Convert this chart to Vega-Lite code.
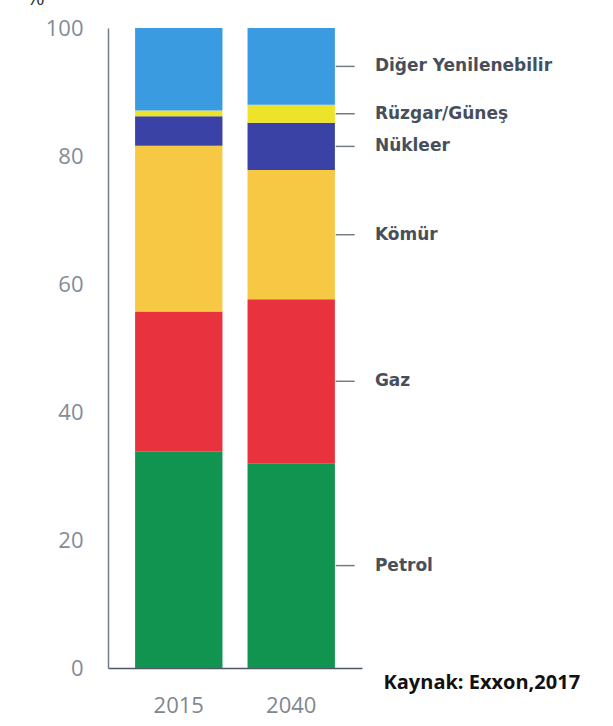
{
  "$schema": "https://vega.github.io/schema/vega-lite/v6.json",
  "width": 254,
  "height": 640,
  "autosize": "none",
  "padding": {"left": 108, "top": 28, "right": 251, "bottom": 58},
  "background": "white",
  "config": {
    "view": {"stroke": null},
    "font": "Open Sans"
  },
  "data": {
    "values": [
      {"year": "2015", "source": "Petrol", "order": 1, "share": 33.8},
      {"year": "2015", "source": "Gaz", "order": 2, "share": 21.9},
      {"year": "2015", "source": "Kömür", "order": 3, "share": 25.9},
      {"year": "2015", "source": "Nükleer", "order": 4, "share": 4.6},
      {"year": "2015", "source": "Rüzgar/Güneş", "order": 5, "share": 0.9},
      {"year": "2015", "source": "Diğer Yenilenebilir", "order": 6, "share": 12.9},
      {"year": "2040", "source": "Petrol", "order": 1, "share": 32.0},
      {"year": "2040", "source": "Gaz", "order": 2, "share": 25.6},
      {"year": "2040", "source": "Kömür", "order": 3, "share": 20.2},
      {"year": "2040", "source": "Nükleer", "order": 4, "share": 7.4},
      {"year": "2040", "source": "Rüzgar/Güneş", "order": 5, "share": 2.8},
      {"year": "2040", "source": "Diğer Yenilenebilir", "order": 6, "share": 12.0}
    ]
  },
  "transform": [
    {"stack": "share", "groupby": ["year"], "sort": [{"field": "order"}], "as": ["y0", "y1"]}
  ],
  "layer": [
    {
      "mark": {"type": "bar"},
      "encoding": {
        "x": {
          "field": "year",
          "type": "nominal",
          "scale": {"paddingInner": 0.223, "paddingOuter": 0.241},
          "axis": {
            "labelAngle": 0,
            "labelFontSize": 22,
            "labelColor": "#7f8790",
            "labelPadding": 27,
            "ticks": false,
            "domainColor": "#4d5866",
            "domainWidth": 1.5,
            "title": "Kaynak: Exxon,2017",
            "titleFontSize": 20,
            "titleFontWeight": "bold",
            "titleColor": "#111111",
            "titleAlign": "left",
            "titleBaseline": "alphabetic",
            "titleX": 275,
            "titleY": 20
          }
        },
        "y": {
          "field": "y0",
          "type": "quantitative",
          "scale": {"domain": [0, 100], "nice": false},
          "axis": {
            "values": [0, 20, 40, 60, 80, 100],
            "grid": false,
            "ticks": false,
            "labelFontSize": 22,
            "labelColor": "#838c98",
            "labelPadding": 25,
            "domainColor": "#6f7d8c",
            "domainWidth": 1.5,
            "title": "%",
            "titleAngle": 0,
            "titleFontSize": 22,
            "titleFontWeight": "normal",
            "titleColor": "#333333",
            "titleAlign": "center",
            "titleBaseline": "alphabetic",
            "titleX": -73,
            "titleY": -24
          }
        },
        "y2": {"field": "y1"},
        "color": {
          "field": "source",
          "type": "nominal",
          "scale": {
            "domain": ["Petrol", "Gaz", "Kömür", "Nükleer", "Rüzgar/Güneş", "Diğer Yenilenebilir"],
            "range": ["#119450", "#e8333f", "#f7c843", "#3b42a6", "#ede42a", "#3a9be0"]
          },
          "legend": null
        },
        "order": {"field": "order"}
      }
    },
    {
      "transform": [
        {"filter": "datum.year === '2040'"},
        {"calculate": "(datum.y0 + datum.y1) / 2", "as": "mid"}
      ],
      "mark": {"type": "tick", "orient": "horizontal", "xOffset": 54, "thickness": 1.5, "color": "#3b4350"},
      "encoding": {
        "x": {"field": "year", "type": "nominal"},
        "y": {"field": "mid", "type": "quantitative"},
        "size": {"value": 19}
      }
    },
    {
      "transform": [
        {"filter": "datum.year === '2040'"},
        {"calculate": "(datum.y0 + datum.y1) / 2", "as": "mid"}
      ],
      "mark": {"type": "text", "align": "left", "baseline": "middle", "dx": 40, "font": "DejaVu Sans", "fontSize": 17, "fontWeight": "bold", "color": "#474f5b"},
      "encoding": {
        "x": {"field": "year", "type": "nominal", "bandPosition": 1},
        "y": {"field": "mid", "type": "quantitative"},
        "text": {"field": "source"}
      }
    }
  ]
}
